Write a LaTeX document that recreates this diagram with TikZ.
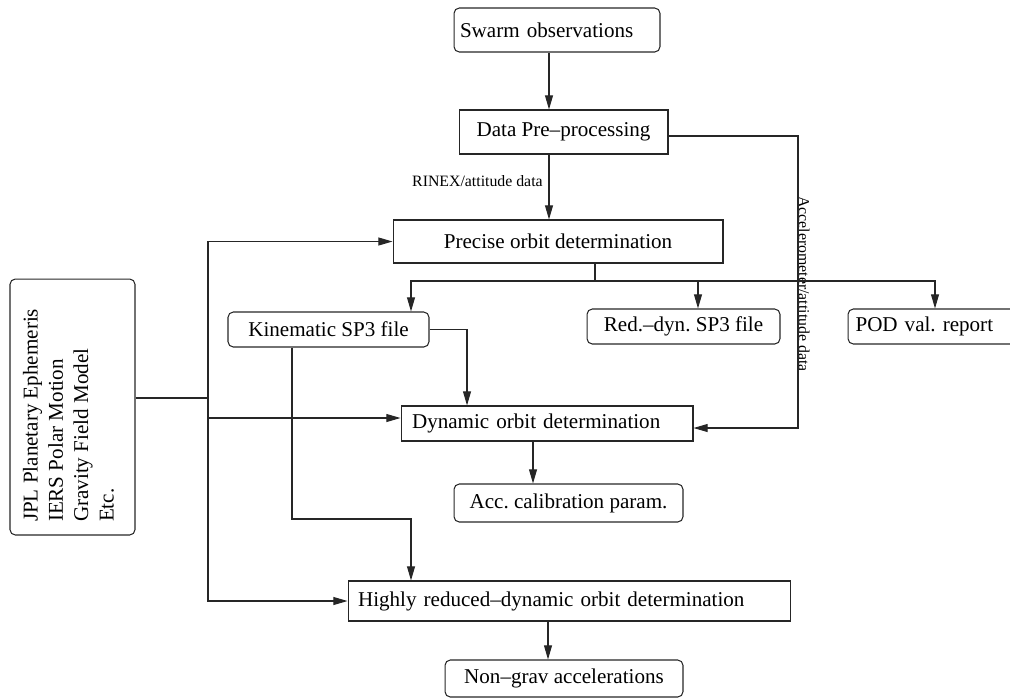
\documentclass[tikz,border=0pt]{standalone}
\usepackage{fontspec}
\setmainfont{Liberation Serif}
\usetikzlibrary{arrows.meta}
\frenchspacing

\begin{document}
\begin{tikzpicture}[x=0.02cm,y=-0.02cm,
  box/.style={draw=black!85,line width=0.6pt,inner sep=0pt,font=\fontsize{12}{14.4}\selectfont},
  rbox/.style={box,rounded corners=3pt},
  lbl/.style={inner sep=0pt,font=\fontsize{9}{11}\selectfont},
  wire/.style={draw=black!85,line width=0.6pt},
  arr/.style={wire,-{Triangle[length=8pt,width=4.5pt]}}]
  \useasboundingbox (0,0) rectangle (1010,698);
  \node[rbox,minimum width=4.12cm,minimum height=0.88cm,text width=3.88cm,align=left] (swarm) at (557,30) {Swarm observations};
  \node[box,minimum width=4.18cm,minimum height=0.88cm] (data) at (563.5,132) {Data Pre--processing};
  \node[box,minimum width=6.6cm,minimum height=0.86cm] (precise) at (558,241.5) {Precise orbit determination};
  \node[rbox,minimum width=4.02cm,minimum height=0.7cm] (kinematic) at (328.5,329.5) {Kinematic SP3 file};
  \node[rbox,minimum width=3.86cm,minimum height=0.7cm] (reddyn) at (683.5,326.5) {Red.--dyn. SP3 file};
  \node[rbox,minimum width=3.4cm,minimum height=0.7cm,text width=3.1cm,align=left] (pod) at (933,326.5) {POD val. report};
  \node[box,minimum width=5.84cm,minimum height=0.7cm,text width=5.4cm,align=left] (dynamic) at (547,423.5) {Dynamic orbit determination};
  \node[rbox,minimum width=4.58cm,minimum height=0.76cm] (acc) at (568.5,503) {Acc. calibration param.};
  \node[box,minimum width=8.86cm,minimum height=0.8cm,text width=8.46cm,align=left] (highly) at (569.5,601) {Highly reduced--dynamic orbit determination};
  \node[rbox,minimum width=4.76cm,minimum height=0.74cm] (nongrav) at (564,678.5) {Non--grav accelerations};
  \node[rbox,rotate=90,minimum width=5.12cm,minimum height=2.5cm] (models) at (72.5,407)
    {\parbox[c][1.98cm][t]{4.6cm}{JPL Planetary Ephemeris\\IERS Polar Motion\\Gravity Field Model\\Etc.}};

  \node[lbl,anchor=east] (rinex) at (543,181) {RINEX/attitude data};
  \node[lbl,rotate=-90,anchor=south] (accdata) at (798,284) {Accelerometer/attitude data};

  \coordinate (spine) at (549,0);
  \coordinate (split) at (208,398);
  \coordinate (fork) at (595,281);
  \coordinate (kdrop) at (411,519);
  \coordinate (accin) at (798,428);

  \draw[arr] (swarm.south -| spine) -- (data.north -| spine);
  \draw[arr] (data.south -| spine) -- (precise.north -| spine);
  \draw[wire] (precise.south -| fork) -- (fork);
  \draw[arr] (fork) -| (kinematic.north -| kdrop);
  \draw[arr] (fork) -| ([xshift=0.29cm]reddyn.north);
  \draw[arr] (fork) -| ([xshift=0.04cm]pod.north);
  \draw[arr] (kinematic.east) -| ([xshift=-1.6cm]dynamic.north);
  \draw[arr] ([xshift=-0.73cm]kinematic.south) |- (kdrop) -- (highly.north -| kdrop);
  \draw[arr] ([xshift=-0.28cm]dynamic.south) -- ([xshift=-0.28cm]dynamic.south |- acc.north);
  \draw[arr] ([xshift=-0.43cm]highly.south) -- ([xshift=-0.43cm]highly.south |- nongrav.north);
  \draw[arr] ([yshift=-0.08cm]data.east) -| (accin) -- (accin -| dynamic.east);

  \draw[wire] (split -| models.south) -- (split);
  \draw[arr] (split) |- (precise.west);
  \draw[arr] (split) |- (highly.west);
  \draw[arr] ([yshift=0.11cm]dynamic.west -| split) -- ([yshift=0.11cm]dynamic.west);
\end{tikzpicture}
\end{document}
